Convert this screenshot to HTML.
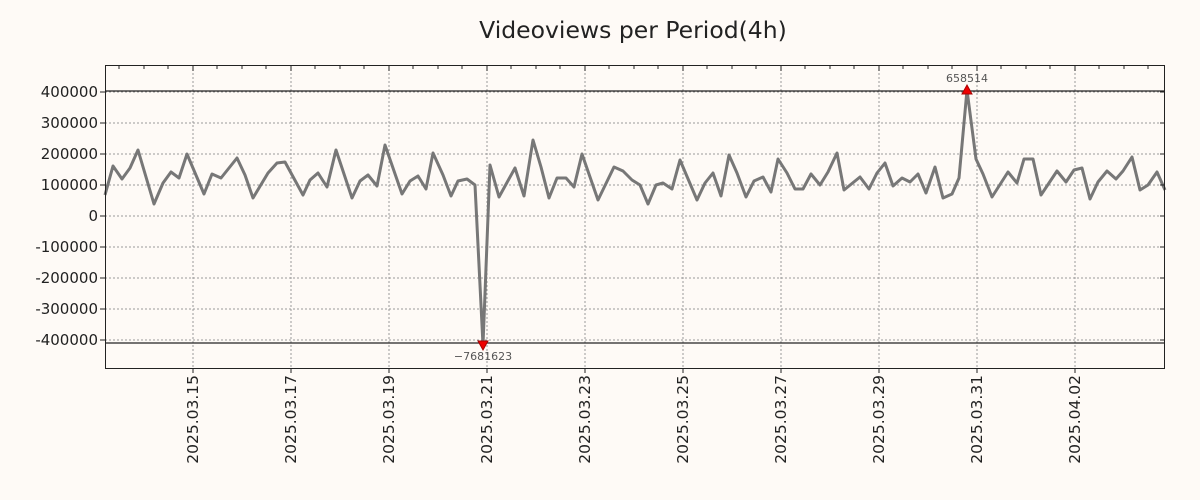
<!DOCTYPE html>
<html><head><meta charset="utf-8"><style>
html,body{margin:0;padding:0;background:#fefaf6;}
svg{display:block;font-family:"DejaVu Sans","Liberation Sans",sans-serif;}
</style></head><body>
<svg width="1200" height="500" viewBox="0 0 1200 500" xmlns="http://www.w3.org/2000/svg">
<rect width="1200" height="500" fill="#fefaf6"/>
<text x="633" y="38" font-size="23.5" text-anchor="middle" fill="#222">Videoviews per Period(4h)</text>
<g stroke="#999" stroke-width="1" stroke-dasharray="2,2">
<line x1="105" x2="1165" y1="92" y2="92"/><line x1="105" x2="1165" y1="123" y2="123"/><line x1="105" x2="1165" y1="154" y2="154"/><line x1="105" x2="1165" y1="185" y2="185"/><line x1="105" x2="1165" y1="216" y2="216"/><line x1="105" x2="1165" y1="247" y2="247"/><line x1="105" x2="1165" y1="278" y2="278"/><line x1="105" x2="1165" y1="309" y2="309"/><line x1="105" x2="1165" y1="340" y2="340"/>
<line y1="65" y2="369" x1="193" x2="193"/><line y1="65" y2="369" x1="291" x2="291"/><line y1="65" y2="369" x1="389" x2="389"/><line y1="65" y2="369" x1="487" x2="487"/><line y1="65" y2="369" x1="585" x2="585"/><line y1="65" y2="369" x1="683" x2="683"/><line y1="65" y2="369" x1="781" x2="781"/><line y1="65" y2="369" x1="879" x2="879"/><line y1="65" y2="369" x1="977" x2="977"/><line y1="65" y2="369" x1="1075" x2="1075"/>
</g>
<line x1="105" x2="1165" y1="91" y2="91" stroke="#222" stroke-width="1.2"/>
<line x1="105" x2="1165" y1="343" y2="343" stroke="#222" stroke-width="1.2"/>
<polyline fill="none" stroke="#777" stroke-width="3" stroke-linejoin="round" points="105,195 113,166 122,179 130,168 138,150 154,204 163,183 171,172 179,178 187,154 204,194 212,174 221,178 237,158 245,175 253,198 268,173 277,163 285,162 303,195 310,180 318,173 327,187 336,150 352,198 360,181 368,175 377,186 385,145 402,194 410,181 418,176 426,189 433,153 443,175 451,196 458,181 467,179 475,185 483,345 490,165 499,197 515,168 524,196 533,140 541,167 549,198 557,178 566,178 574,187 582,154 598,200 614,167 623,171 632,180 640,185 648,204 656,185 663,183 672,189 680,160 697,200 705,183 713,173 721,196 729,155 737,173 746,197 754,181 763,177 771,192 778,159 787,173 795,189 803,189 811,174 820,185 828,172 837,153 844,190 860,177 869,189 877,173 885,163 893,186 902,178 910,182 918,174 926,193 935,167 943,198 952,194 959,178 967,90 976,159 983,174 992,197 1008,172 1017,183 1024,159 1033,159 1041,195 1057,171 1066,182 1074,170 1082,168 1090,199 1098,182 1107,171 1116,179 1123,171 1132,157 1140,190 1148,185 1157,172 1165,190"/>
<polygon points="962,94 972,94 967,85" fill="#e00" stroke="#a00" stroke-width="1"/>
<polygon points="478,341 488,341 483,350" fill="#e00" stroke="#a00" stroke-width="1"/>
<text x="967" y="82" font-size="11" text-anchor="middle" fill="#555">658514</text>
<text x="483" y="360" font-size="11" text-anchor="middle" fill="#555">−7681623</text>
<rect x="105.5" y="65.5" width="1059" height="303" fill="none" stroke="#222" stroke-width="1"/>
<g stroke="#222" stroke-width="1">
<line x1="105" x2="100" y1="92" y2="92"/><line x1="105" x2="100" y1="123" y2="123"/><line x1="105" x2="100" y1="154" y2="154"/><line x1="105" x2="100" y1="185" y2="185"/><line x1="105" x2="100" y1="216" y2="216"/><line x1="105" x2="100" y1="247" y2="247"/><line x1="105" x2="100" y1="278" y2="278"/><line x1="105" x2="100" y1="309" y2="309"/><line x1="105" x2="100" y1="340" y2="340"/>
<line x1="1165" x2="1160" y1="92" y2="92"/><line x1="1165" x2="1160" y1="123" y2="123"/><line x1="1165" x2="1160" y1="154" y2="154"/><line x1="1165" x2="1160" y1="185" y2="185"/><line x1="1165" x2="1160" y1="216" y2="216"/><line x1="1165" x2="1160" y1="247" y2="247"/><line x1="1165" x2="1160" y1="278" y2="278"/><line x1="1165" x2="1160" y1="309" y2="309"/><line x1="1165" x2="1160" y1="340" y2="340"/>
</g>
<g font-size="15" fill="#222" text-anchor="end">
<text x="98" y="97">400000</text><text x="98" y="128">300000</text><text x="98" y="159">200000</text><text x="98" y="190">100000</text><text x="98" y="221">0</text><text x="98" y="252">-100000</text><text x="98" y="283">-200000</text><text x="98" y="314">-300000</text><text x="98" y="345">-400000</text>
</g>
<g font-size="15.5" fill="#222" text-anchor="end">
<text transform="translate(198,375) rotate(-90)">2025.03.15</text>
<text transform="translate(296,375) rotate(-90)">2025.03.17</text>
<text transform="translate(394,375) rotate(-90)">2025.03.19</text>
<text transform="translate(492,375) rotate(-90)">2025.03.21</text>
<text transform="translate(590,375) rotate(-90)">2025.03.23</text>
<text transform="translate(688,375) rotate(-90)">2025.03.25</text>
<text transform="translate(786,375) rotate(-90)">2025.03.27</text>
<text transform="translate(884,375) rotate(-90)">2025.03.29</text>
<text transform="translate(982,375) rotate(-90)">2025.03.31</text>
<text transform="translate(1080,375) rotate(-90)">2025.04.02</text>
</g>
<g stroke="#222" stroke-width="1">
<path d="M119,66v3M144,66v3M168,66v3M193,66v5M217,66v3M242,66v3M266,66v3M291,66v5M315,66v3M340,66v3M364,66v3M389,66v5M413,66v3M438,66v3M462,66v3M487,66v5M511,66v3M536,66v3M560,66v3M585,66v5M609,66v3M634,66v3M658,66v3M683,66v5M707,66v3M732,66v3M756,66v3M781,66v5M805,66v3M830,66v3M854,66v3M879,66v5M903,66v3M928,66v3M952,66v3M977,66v5M1001,66v3M1026,66v3M1050,66v3M1075,66v5M1099,66v3M1124,66v3M1148,66v3"/>
<path d="M193,369v4M291,369v4M389,369v4M487,369v4M585,369v4M683,369v4M781,369v4M879,369v4M977,369v4M1075,369v4"/>
</g>
</svg>
</body></html>
